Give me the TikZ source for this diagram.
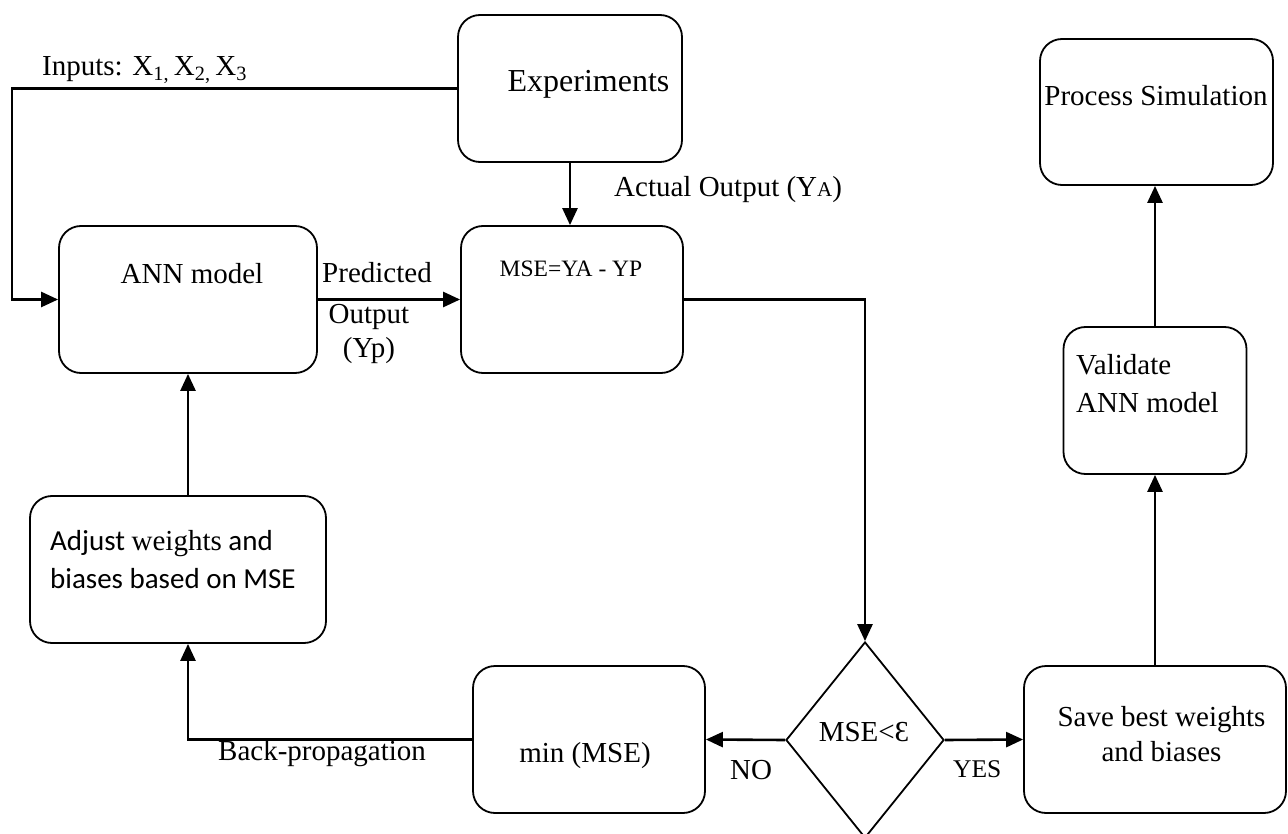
\documentclass[tikz,border=0pt]{standalone}
\usepackage{fontspec}
\setmainfont{Liberation Serif}
\newfontfamily\calibri{Carlito}
\usetikzlibrary{arrows.meta,shapes.geometric}

\begin{document}
\begin{tikzpicture}[x=1pt,y=-1pt,
  box/.style={draw, line width=1.8pt, rounded corners=22pt, inner sep=0pt},
  dec/.style={draw, diamond, line width=1.8pt, inner sep=0pt},
  txt/.style={inner sep=0pt, anchor=base, font=\fontsize{29}{35}\selectfont},
  ltxt/.style={txt, anchor=base west},
  arr/.style={line width=2.6pt, -{Triangle[length=17pt,width=15pt]}}]

\useasboundingbox (0,0) rectangle (1288,834);
\clip (0,0) rectangle (1288,834);

% boxes
\node[box, minimum width=224pt, minimum height=147pt] (exp) at (570,88.5) {};
\node[box, minimum width=233pt, minimum height=146pt] (sim) at (1156.5,112) {};
\node[box, minimum width=258pt, minimum height=147pt] (ann) at (188,299.5) {};
\node[box, minimum width=222pt, minimum height=147pt] (mse) at (572,299.5) {};
\node[box, minimum width=183pt, minimum height=147pt] (val) at (1155,400.5) {};
\node[box, minimum width=296pt, minimum height=147pt] (adj) at (178,569.5) {};
\node[box, minimum width=232pt, minimum height=147pt] (min) at (589,739.5) {};
\node[box, minimum width=262pt, minimum height=147pt] (save) at (1155,739.5) {};
\node[dec, minimum width=158pt, minimum height=196pt] (dia) at (865,740) {};

% box texts
\node[txt, font=\fontsize{32}{38}\selectfont] (expT) at (588.5,92) {Experiments};
\node[txt] (simT) at (1156,106) {Process Simulation};
\node[txt] (annT) at (192,284) {ANN model};
\node[txt, font=\fontsize{23.5}{28}\selectfont] (mseT) at (571,277) {MSE=YA - YP};
\node[ltxt] (valT1) at (1076,374) {Validate};
\node[ltxt] (valT2) at (1076,412) {ANN model};
\node[ltxt, font=\calibri\fontsize{29}{35}\selectfont] (adjT1) at (50,550) {Adjust {\rmfamily weights} and};
\node[ltxt, font=\calibri\fontsize{29}{35}\selectfont] (adjT2) at (50,588) {biases based on MSE};
\node[txt] (minT) at (585,762) {min (MSE)};
\node[txt] (saveT1) at (1161.5,726) {Save best weights};
\node[txt] (saveT2) at (1161.5,761) {and biases};
\node[txt] (diaT) at (864,741) {MSE<Ɛ};

% connector labels
\node[ltxt] (inL) at (42,76) {Inputs: X\textsubscript{1,}\,X\textsubscript{2,}\,X\textsubscript{3}};
\node[ltxt] (actL) at (614,197) {Actual Output (Y{\fontsize{21}{21}\selectfont A})};
\node[txt] (predL1) at (377,283) {Predicted};
\node[txt] (predL2) at (369,324) {Output};
\node[txt] (predL3) at (369,357) {(Yp)};
\node[ltxt] (bpL) at (218,760) {Back-propagation};
\node[ltxt] (noL) at (730,779) {NO};
\node[ltxt, font=\fontsize{25.5}{30}\selectfont] (yesL) at (953,777) {YES};

% connectors
\coordinate (inx) at (12,88.5);
\draw[arr] (exp.west) -- (inx) |- (ann.west);
\draw[arr] (exp.south) -- (exp.south |- mse.north);
\draw[arr] (ann.east) -- (mse.west);
\draw[arr] (mse.east) -| (dia.north);
\draw[arr] (dia.west) -- (min.east);
\draw[arr] (min.west) -| (ann.south |- adj.south);
\draw[arr] (ann.south |- adj.north) -- (ann.south);
\draw[arr] (dia.east) -- (save.west);
\draw[arr] (save.north) -- (save.north |- val.south);
\draw[arr] (val.north) -- (val.north |- sim.south);
\end{tikzpicture}
\end{document}
